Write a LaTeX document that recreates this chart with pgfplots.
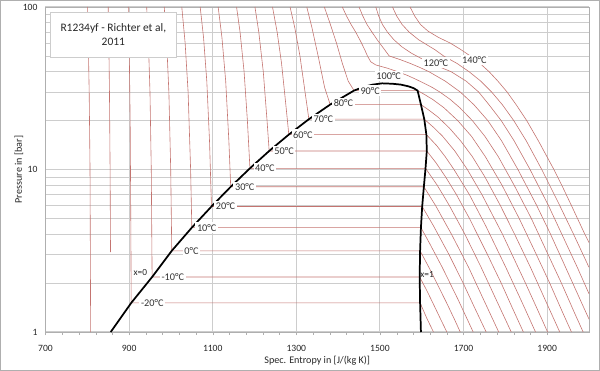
\documentclass[border=0pt]{standalone}
\usepackage{fontspec}
\setmainfont{Carlito}
\usepackage{pgfplots}
\pgfplotsset{compat=1.18}
\definecolor{isoc}{RGB}{196,116,112}
\definecolor{gridc}{RGB}{205,205,205}
\definecolor{framec}{RGB}{175,175,175}
\tikzset{
  iso/.style={isoc, line width=0.45pt, line join=round},
  sat/.style={black, line width=1.3pt, line join=round},
  lab/.style={fill=white, inner sep=1.2pt, text=black!80, font=\fontsize{7.7}{9}\selectfont, anchor=west},
}
\begin{document}
\begin{tikzpicture}
\useasboundingbox (-34.125pt,-29.25pt) rectangle (415.875pt,249pt);
\begin{axis}[
  at={(0,0)}, anchor=south west, scale only axis,
  width=407.625pt, height=243.75pt,
  xmin=700, xmax=2000, ymode=log, ymin=1, ymax=100,
  xtick={700,900,...,1900}, minor x tick num=4,
  ytick={1,10,100}, yticklabels={1,10,100},
  xmajorgrids, ymajorgrids, yminorgrids,
  major grid style={gridc, line width=0.8pt},
  minor grid style={gridc, line width=0.5pt},
  axis line style={framec},
  tick align=outside, xtick pos=left, ytick pos=left,
  xtick style={framec}, ytick style={draw=none},
  major tick length=2.5pt, minor tick length=2pt,
  /pgf/number format/assume math mode=true,
  /pgf/number format/1000 sep={},
  ticklabel style={font=\fontsize{7.2}{8}\selectfont, text=black!85},
  xticklabel style={yshift=-4pt},
  xlabel={Spec. Entropy in [J/(kg K)]},
  ylabel={Pressure in [bar]},
  label style={font=\fontsize{7.6}{9}\selectfont, text=black!85},
  x label style={at={(axis description cs:0.5,-0.089)}, anchor=center},
  y label style={at={(axis description cs:-0.0488,0.5)}, anchor=center},
]
% ---- isotherms ----
\addplot[iso] coordinates {(800,100)(802.3,60)(804.5,30)(806.5,10)(808,1)};
\addplot[iso] coordinates {(850,100)(851.5,60)(853,30)(854.5,10)(855.5,3.1)};
\addplot[iso] coordinates {(898,100)(900.5,50)(902.5,20)(904,5)(905,1.51)(1596,1.51)(1613,1.2)(1628,1)};
\addplot[iso] coordinates {(942,100)(946.2,60)(949.9,30)(953,10)(955,2.18)(1595,2.18)(1612,1.8)(1627,1.5)(1645,1.2)(1660,1)};
\addplot[iso] coordinates {(984,100)(989.9,60)(995.1,30)(999.5,10)(1002,3.16)(1596,3.16)(1617,2.5)(1636,2)(1660,1.5)(1678,1.2)(1692,1)};
\addplot[iso] coordinates {(1026,100)(1034,60)(1041.1,30)(1047.1,10)(1050,4.39)(1598,4.39)(1619,3.5)(1649,2.5)(1686,1.6)(1723,1)};
\addplot[iso] coordinates {(1070,100)(1078,65)(1085.8,35)(1092.3,15)(1097,5.92)(1601,5.92)(1628,4.5)(1665,3)(1699,2)(1727,1.4)(1754,1)};
\addplot[iso] coordinates {(1113,100)(1122,65)(1131,35)(1138.6,15)(1143,7.83)(1605,7.83)(1633,6)(1671,4)(1712,2.5)(1747,1.6)(1784,1)};
\addplot[iso] coordinates {(1157,100)(1165.4,70)(1175,40)(1182.9,20)(1189,10.17)(1609,10.17)(1637,8)(1666,6)(1703,4)(1742,2.5)(1777,1.6)(1814,1)};
\addplot[iso] coordinates {(1201,100)(1210.2,70)(1220.9,40)(1229.9,20)(1235,13)(1612,13)(1634,11)(1657,9)(1683,7)(1714,5)(1757,3)(1790,2)(1817,1.4)(1843,1)};
\addplot[iso] coordinates {(1243,100)(1254.1,70)(1264.6,45)(1274.9,25)(1282,16.4)(1611,16.4)(1636,14)(1656,12)(1677,10)(1714,7)(1753,4.5)(1801,2.5)(1841,1.5)(1872,1)};
\addplot[iso] coordinates {(1285,100)(1296.1,75)(1308.6,50)(1320.8,30)(1330,20.4)(1606,20.4)(1630,18)(1650,16)(1679,13)(1709,10)(1744,7)(1793,4)(1848,2)(1881,1.3)(1901,1)};
\addplot[iso] coordinates {(1325,100)(1337.1,75)(1352.1,50)(1367.6,32)(1381,25.1)(1598,25.1)(1619,23)(1639,21)(1666,18)(1693,15)(1721,12)(1751,9)(1788,6)(1822,4)(1860,2.5)(1899,1.5)(1930,1)};
\addplot[iso] coordinates {(1367,100)(1380,80)(1396,60)(1410,45)(1424,35)(1438,30.6)(1590,30.6)(1606,29)(1626,27)(1653,24)(1686,20)(1719,16)(1752,12)(1792,8)(1833,5)(1874,3)(1906,2)(1938,1.3)(1958,1)};
\addplot[iso] coordinates {(1410,100)(1420,88)(1431,78)(1442,70)(1453,62)(1463,55)(1470,50)(1478,46)(1490,44)(1518,42)(1542,40)(1565,38)(1585,36)(1605,34)(1625,32)(1643,30)(1668,27)(1691,24)(1721,20)(1751,16)(1783,12)(1821,8)(1862,5)(1902,3)(1934,2)(1966,1.3)(1986,1)};
\addplot[iso] coordinates {(1450,100)(1459,88)(1469,78)(1481,70)(1495,62)(1508,56)(1522,50)(1548,47.5)(1572,45)(1595,42.5)(1617,40)(1656,35)(1692,30)(1725,25)(1758,20)(1791,15)(1830,10)(1875,6)(1908,4)(1944,2.5)(1978,1.6)(2000,1.2)};
\addplot[iso] coordinates {(1490,100)(1497,88)(1506,78)(1518,70)(1533,63)(1552,57)(1575,52)(1597,48.5)(1620,45.5)(1645,42.5)(1670,40)(1706,35)(1736,30)(1761,25)(1790,20)(1821,15)(1859,10)(1903,6)(1935,4)(1972,2.5)(2000,1.72)};
\addplot[iso] coordinates {(1530,100)(1540,88)(1553,78)(1570,70)(1592,63)(1610,59)(1632,54.5)(1652,50)(1684,45)(1713,40)(1741,35)(1767,30)(1793,25)(1820,20)(1850,15)(1887,10)(1930,6)(1963,4)(2000,2.5)};
\addplot[iso] coordinates {(1572,100)(1583,88)(1597,78)(1615,71)(1640,65)(1668,60)(1692,55)(1716,50)(1739,45)(1761,40)(1782,35)(1804,30)(1826,25)(1851,20)(1879,15)(1916,10)(1938,7.7)(1958,6)(1990,4)(2000,3.55)};
% ---- saturation curve ----
\addplot[sat] coordinates {(856,1)(905,1.51)(955,2.18)(1002,3.16)(1050,4.39)(1097,5.92)(1143,7.83)(1189,10.17)(1235,13)(1282,16.4)(1330,20.4)(1381,25.1)(1438,30.6)(1462,32.3)(1483,33.3)(1505,33.9)(1530,33.7)(1550,33.3)(1568,32.5)(1580,31.7)(1590,30.6)(1598,25.1)(1606,20.4)(1611,16.4)(1612,13)(1609,10.17)(1605,7.83)(1601,5.92)(1598,4.39)(1596,3.16)(1595,2.18)(1596,1.51)(1598,1)};
% ---- labels ----
\node[lab] at (axis cs:924,1.51) {-20°C};
\node[lab] at (axis cs:973,2.18) {-10°C};
\node[lab] at (axis cs:1028,3.16) {0°C};
\node[lab] at (axis cs:1058,4.39) {10°C};
\node[lab] at (axis cs:1103,5.92) {20°C};
\node[lab] at (axis cs:1149,7.83) {30°C};
\node[lab] at (axis cs:1197,10.17) {40°C};
\node[lab] at (axis cs:1243,13) {50°C};
\node[lab] at (axis cs:1288,16.4) {60°C};
\node[lab] at (axis cs:1337,20.4) {70°C};
\node[lab] at (axis cs:1385,25.6) {80°C};
\node[lab] at (axis cs:1449,30.6) {90°C};
\node[lab] at (axis cs:1487,37.6) {100°C};
\node[lab] at (axis cs:1600,45.5) {120°C};
\node[lab] at (axis cs:1692,47) {140°C};
\node[anchor=west, inner sep=0pt, text=black!85, font=\fontsize{7}{8}\selectfont] at (axis cs:910,2.32) {x=0};
\node[anchor=west, inner sep=0pt, text=black!85, font=\fontsize{7}{8}\selectfont] at (axis cs:1596,2.27) {x=1};
\node[draw=gridc, fill=white, align=center, font=\fontsize{8.6}{10.5}\selectfont, text=black!85,
      minimum width=95pt, minimum height=33.5pt, inner sep=0pt] at (rel axis cs:0.1248,0.9138) {R1234yf - Richter et al,\\2011};
\end{axis}
\draw[framec, line width=0.75pt] (-33.75pt,-28.875pt) rectangle (415.5pt,248.625pt);
\end{tikzpicture}
\end{document}
